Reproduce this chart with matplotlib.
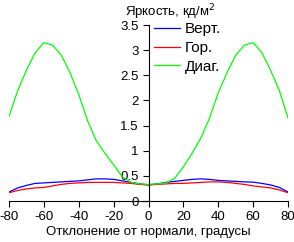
import numpy as np
import matplotlib.pyplot as plt

plt.rcParams['font.family'] = ['Liberation Sans', 'DejaVu Sans']

# angles, degrees
angles = [-80, -75, -70, -65, -60, -55, -50, -45, -40, -35, -30, -25, -20, -15, -10, -5,
          0, 5, 10, 15, 20, 25, 30, 35, 40, 45, 50, 55, 60, 65, 70, 75, 80]

vert = [0.18, 0.26, 0.31, 0.35, 0.36, 0.37, 0.38, 0.39, 0.40, 0.42, 0.44, 0.44, 0.43, 0.40, 0.37, 0.34,
        0.32, 0.34, 0.37, 0.39, 0.41, 0.43, 0.44, 0.43, 0.41, 0.40, 0.39, 0.38, 0.375, 0.35, 0.32, 0.27, 0.18]
horiz = [0.165, 0.21, 0.24, 0.26, 0.27, 0.30, 0.33, 0.35, 0.36, 0.37, 0.37, 0.37, 0.37, 0.36, 0.35, 0.33,
         0.32, 0.33, 0.34, 0.35, 0.35, 0.36, 0.37, 0.38, 0.38, 0.37, 0.35, 0.33, 0.30, 0.28, 0.26, 0.22, 0.165]
diag = [1.68, 2.2, 2.6, 2.95, 3.15, 3.1, 2.9, 2.55, 2.12, 1.6, 1.2, 0.95, 0.72, 0.48, 0.37, 0.34,
        0.33, 0.34, 0.36, 0.45, 0.68, 0.95, 1.25, 1.65, 2.15, 2.55, 2.9, 3.1, 3.15, 2.95, 2.6, 2.2, 1.65]

xticks = [-80, -60, -40, -20, 0, 20, 40, 60, 80]
yticks = [0, 0.5, 1, 1.5, 2, 2.5, 3, 3.5]

fs = 9.5

fig = plt.figure(figsize=(2.94, 2.42), dpi=100)
ax = fig.add_axes([9 / 294, 41 / 242, 279 / 294, 176 / 242])

ax.plot(angles, vert, color='#0000ff', lw=0.9, label='Верт.')
ax.plot(angles, horiz, color='#ff0000', lw=0.9, label='Гор.')
ax.plot(angles, diag, color='#00ff00', lw=0.9, label='Диаг.')

ax.set_xlim(-80, 80)
ax.set_ylim(0, 3.5)
ax.set_xticks(xticks)
ax.set_xticklabels([str(t) for t in xticks])
ax.set_yticks(yticks)
ax.set_yticklabels(['0', '0.5', '1', '1.5', '2', '2.5', '3', '3.5'])

ax.spines['left'].set_position(('data', 0))
ax.spines['right'].set_visible(False)
ax.spines['top'].set_visible(False)
for s in ('left', 'bottom'):
    ax.spines[s].set_linewidth(0.8)
ax.tick_params(axis='both', direction='out', length=4, width=0.8, labelsize=fs, pad=3)
ax.tick_params(axis='x', pad=3)
ax.patch.set_visible(False)

ax.legend(loc='upper left', bbox_to_anchor=(0.52, 1.015), frameon=False, fontsize=11,
          handlelength=1.7, handletextpad=0.33, labelspacing=0.3, borderpad=0, borderaxespad=0)

fig.text(125 / 294, 1 - 2 / 242, 'Яркость, кд/м$^2$', ha='left', va='top', fontsize=fs)
ax.set_xlabel('Отклонение от нормали, градусы', fontsize=fs, labelpad=2)

fig.savefig('out.png', dpi=100)
